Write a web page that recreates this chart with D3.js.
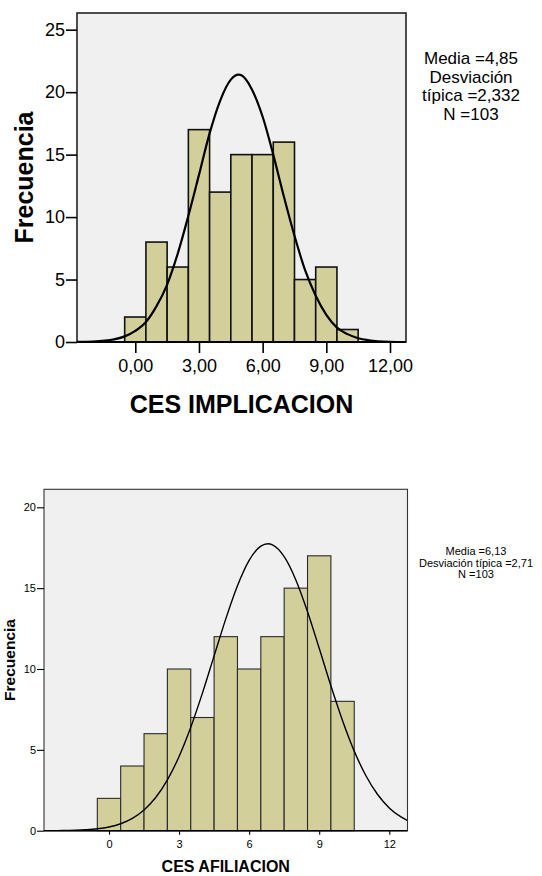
<!DOCTYPE html>
<html lang="es">
<head>
<meta charset="UTF-8">
<title>Histogramas CES</title>
<script src="https://d3js.org/d3.v7.min.js"></script>
<style>
  body { margin: 0; background: #fff; font-family: 'Liberation Sans', Arial, sans-serif; }
  svg text { fill: #000; }
</style>
</head>
<body>
<svg id="chart" width="542" height="876"></svg>
<script>
// bins (centre of each bar, width 1)
const binCenters = [0, 1, 2, 3, 4, 5, 6, 7, 8, 9, 10];
const implicacionCounts = [2, 8, 6, 17, 12, 15, 15, 16, 5, 6, 1];
const afiliacionCounts = [2, 4, 6, 10, 7, 12, 10, 12, 15, 17, 8];

// tick values / labels
const implicacionXTicks = [0, 3, 6, 9, 12];
const implicacionXLabels = ["0,00", "3,00", "6,00", "9,00", "12,00"];
const implicacionYTicks = [0, 5, 10, 15, 20, 25];
const afiliacionXTicks = [0, 3, 6, 9, 12];
const afiliacionXLabels = ["0", "3", "6", "9", "12"];
const afiliacionYTicks = [0, 5, 10, 15, 20];

// normal curve
const implicacionCurveX = [-2.75, -2, -1, -0.5, 0, 0.5, 1, 1.5, 2, 2.5, 3, 3.5, 4, 4.5, 4.87, 5, 5.5, 6, 6.5, 7, 7.5, 8, 8.5, 9, 9.5, 10, 10.5, 11, 12, 12.75];
const implicacionCurveY = [0.01, 0.04, 0.21, 0.45, 0.89, 1.6, 2.87, 4.6, 7.08, 10.1, 13.38, 16.7, 19.33, 21.0, 21.4, 21.35, 20.2, 18.03, 15.0, 11.64, 8.5, 5.75, 3.7, 2.17, 1.15, 0.63, 0.3, 0.14, 0.02, 0.0];
const afiliacionCurveX = [-2.78, -2, -1, -0.5, 0, 0.5, 1, 1.5, 2, 2.5, 3, 3.5, 4, 4.5, 5, 5.5, 6, 6.5, 6.8, 7, 7.5, 8, 8.5, 9, 9.5, 10, 10.5, 11, 11.5, 12, 12.5, 12.78];
const afiliacionCurveY = [0.0, 0.01, 0.06, 0.12, 0.23, 0.43, 0.76, 1.28, 2.05, 3.14, 4.59, 6.4, 8.51, 10.81, 13.1, 15.15, 16.72, 17.6, 17.75, 17.68, 16.95, 15.51, 13.54, 11.28, 8.96, 6.8, 4.92, 3.4, 2.24, 1.41, 0.85, 0.63];

// legend text
const implicacionStats = ["Media =4,85", "Desviación", "típica =2,332", "N =103"];
const afiliacionStats = ["Media =6,13", "Desviación típica =2,71", "N =103"];

const svg = d3.select("#chart");

function drawHist(cfg) {
    const g = svg.append("g");
    const x = d3.scaleLinear().domain(cfg.xDomain).range([cfg.left, cfg.right]);
    const y = d3.scaleLinear().domain([0, cfg.yMax]).range([cfg.bottom, cfg.top]);

    g.append("rect")
        .attr("x", cfg.left).attr("y", cfg.top)
        .attr("width", cfg.right - cfg.left).attr("height", cfg.bottom - cfg.top)
        .attr("fill", "#f0f0f0");

    const clipId = "clip-" + cfg.id;
    g.append("clipPath").attr("id", clipId)
        .append("rect")
        .attr("x", cfg.left).attr("y", cfg.top)
        .attr("width", cfg.right - cfg.left).attr("height", cfg.bottom - cfg.top);

    const bins = binCenters.map((c, i) => ({ c: c, n: cfg.counts[i] }));
    g.selectAll(".bar").data(bins).join("rect")
        .attr("class", "bar")
        .attr("x", d => x(d.c - 0.5))
        .attr("y", d => y(d.n))
        .attr("width", d => x(d.c + 0.5) - x(d.c - 0.5))
        .attr("height", d => y(0) - y(d.n))
        .attr("fill", "#d3cf9b")
        .attr("stroke", cfg.barStroke)
        .attr("stroke-width", cfg.barStrokeW);

    const pts = cfg.curveX.map((v, i) => [v, cfg.curveY[i]]);
    g.append("path")
        .datum(pts)
        .attr("clip-path", `url(#${clipId})`)
        .attr("fill", "none")
        .attr("stroke", "#000")
        .attr("stroke-width", cfg.curveW)
        .attr("d", d3.line().x(d => x(d[0])).y(d => y(d[1])).curve(d3.curveMonotoneX));

    // frame
    g.append("rect")
        .attr("x", cfg.left).attr("y", cfg.top)
        .attr("width", cfg.right - cfg.left).attr("height", cfg.bottom - cfg.top)
        .attr("fill", "none")
        .attr("stroke", cfg.frameStroke)
        .attr("stroke-width", cfg.frameW);
    g.append("line")
        .attr("x1", cfg.left).attr("x2", cfg.right)
        .attr("y1", cfg.bottom).attr("y2", cfg.bottom)
        .attr("stroke", "#000").attr("stroke-width", cfg.frameW + 0.5);

    // axes
    const yAxis = d3.axisLeft(y).tickValues(cfg.yTicks).tickSize(cfg.tickLen).tickPadding(1);
    const ya = g.append("g").attr("transform", `translate(${cfg.left},0)`).call(yAxis);
    ya.select(".domain").remove();
    ya.selectAll("line").attr("stroke", "#000").attr("stroke-width", cfg.frameW);
    ya.selectAll("text").attr("font-size", cfg.tickFont).attr("font-family", "'Liberation Sans', Arial, sans-serif");

    const xAxis = d3.axisBottom(x).tickValues(cfg.xTicks)
        .tickFormat((d, i) => cfg.xLabels[i]).tickSize(cfg.xTickLen).tickPadding(cfg.xTickPad);
    const xa = g.append("g").attr("transform", `translate(0,${cfg.bottom})`).call(xAxis);
    xa.select(".domain").remove();
    xa.selectAll("line").attr("stroke", "#000").attr("stroke-width", cfg.frameW);
    xa.selectAll("text").attr("font-size", cfg.tickFont).attr("font-family", "'Liberation Sans', Arial, sans-serif");

    // titles
    g.append("text")
        .attr("x", (cfg.left + cfg.right) / 2).attr("y", cfg.xTitleY)
        .attr("text-anchor", "middle")
        .attr("font-weight", "bold").attr("font-size", cfg.titleFont)
        .text(cfg.xTitle);
    g.append("text")
        .attr("transform", `translate(${cfg.yTitleX},${(cfg.top + cfg.bottom) / 2}) rotate(-90)`)
        .attr("text-anchor", "middle")
        .attr("font-weight", "bold").attr("font-size", cfg.yTitleFont)
        .text("Frecuencia");

    // stats box
    g.selectAll(".stat").data(cfg.stats).join("text")
        .attr("class", "stat")
        .attr("x", cfg.statX)
        .attr("y", (d, i) => cfg.statY + i * cfg.statStep)
        .attr("text-anchor", "middle")
        .attr("font-size", cfg.statFont)
        .text(d => d);
}

drawHist({
    id: "impl",
    left: 77, right: 406, top: 13, bottom: 342,
    xDomain: [-2.747, 12.754], yMax: 25 * (342 - 13) / (342 - 29.7),
    counts: implicacionCounts,
    curveX: implicacionCurveX, curveY: implicacionCurveY,
    xTicks: implicacionXTicks, xLabels: implicacionXLabels, yTicks: implicacionYTicks,
    barStroke: "#111", barStrokeW: 1.6, curveW: 2.2,
    frameStroke: "#222", frameW: 1.6,
    tickLen: 11, xTickLen: 11, xTickPad: 6, tickFont: 18,
    xTitle: "CES IMPLICACION", xTitleY: 413, titleFont: 25,
    yTitleX: 33, yTitleFont: 25,
    stats: implicacionStats, statX: 471, statY: 64, statStep: 18.5, statFont: 17
});

drawHist({
    id: "afil",
    left: 44, right: 407.5, top: 489.3, bottom: 830.7,
    xDomain: [-2.783, 12.78], yMax: 20 * (830.7 - 489.3) / (830.7 - 507.3),
    counts: afiliacionCounts,
    curveX: afiliacionCurveX, curveY: afiliacionCurveY,
    xTicks: afiliacionXTicks, xLabels: afiliacionXLabels, yTicks: afiliacionYTicks,
    barStroke: "#2a2a2a", barStrokeW: 1.1, curveW: 1.4,
    frameStroke: "#333", frameW: 1.1,
    tickLen: 7, xTickLen: 4, xTickPad: 6, tickFont: 11,
    xTitle: "CES AFILIACION", xTitleY: 872, titleFont: 16,
    yTitleX: 15, yTitleFont: 15.5,
    stats: afiliacionStats, statX: 476, statY: 555, statStep: 11.5, statFont: 11
});
</script>
</body>
</html>
